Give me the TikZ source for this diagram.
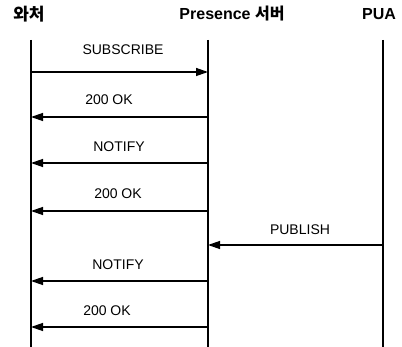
\documentclass[tikz,border=0pt]{standalone}
\usepackage{fontspec}
\setmainfont{Liberation Sans}
\newfontfamily\kr{Noto Sans CJK KR}
\usetikzlibrary{arrows.meta, positioning}

\begin{document}
\begin{tikzpicture}[
  x=1pt, y=-1pt,
  head/.style={font=\fontsize{16}{18}\selectfont\bfseries, inner sep=0pt},
  life/.style={line width=1.8pt},
  msg/.style={line width=1.3pt, -{Triangle[length=12pt, width=8pt]}},
  lbl/.style={font=\fontsize{14}{16}\selectfont, inner sep=0pt}
]
\useasboundingbox (0,0) rectangle (402,347);

% participants
\node[head] (watcher) at (29,14)  {\kr\fontsize{17}{18}\selectfont 와처};
\node[head] (server)  at (232,14) {Presence {\kr 서버}};
\node[head] (pua)     at (379,14) {PUA};

\coordinate (wtop) at (31,40);  \coordinate (wbot) at (31,347);
\coordinate (stop) at (208,40); \coordinate (sbot) at (208,347);
\coordinate (ptop) at (383,40); \coordinate (pbot) at (383,347);

\draw[life] (wtop) -- (wbot);
\draw[life] (stop) -- (sbot);
\draw[life] (ptop) -- (pbot);

% message rows
\foreach \i/\y in {1/72, 2/117, 3/163, 4/211, 5/245, 6/281, 7/327} {
  \coordinate (w\i) at (31,\y);
  \coordinate (s\i) at (208,\y);
  \coordinate (p\i) at (383,\y);
}

\draw[msg] (w1) -- (s1);
\draw[msg] (s2) -- (w2);
\draw[msg] (s3) -- (w3);
\draw[msg] (s4) -- (w4);
\draw[msg] (p5) -- (s5);
\draw[msg] (s6) -- (w6);
\draw[msg] (s7) -- (w7);

\node[lbl] (l1) at (123,50)  {SUBSCRIBE};
\node[lbl] (l2) at (109,100) {200 OK};
\node[lbl] (l3) at (119,147) {NOTIFY};
\node[lbl] (l4) at (118,194) {200 OK};
\node[lbl] (l5) at (300,230) {PUBLISH};
\node[lbl] (l6) at (118,265) {NOTIFY};
\node[lbl] (l7) at (107,311) {200 OK};
\end{tikzpicture}
\end{document}
